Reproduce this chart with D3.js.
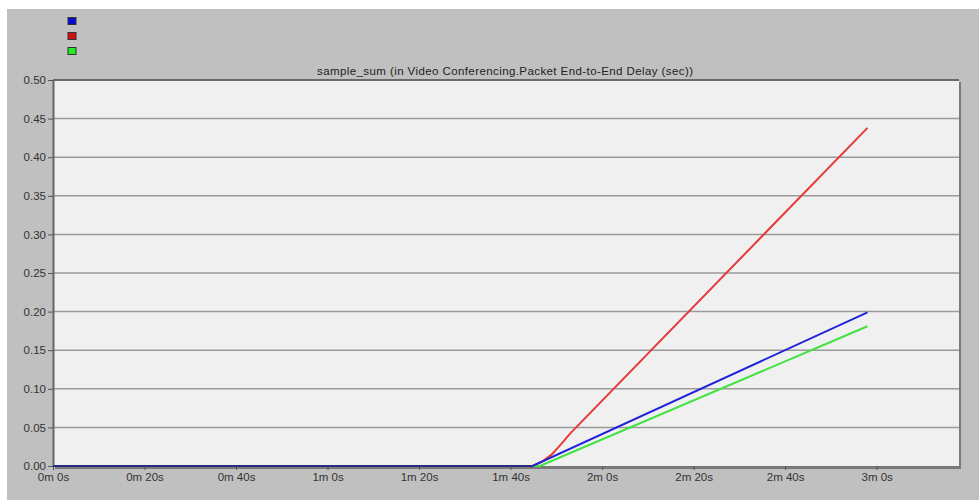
<!DOCTYPE html>
<html>
<head>
<meta charset="utf-8">
<script src="https://cdn.jsdelivr.net/npm/d3@7"></script>
<style>
  body { margin: 0; background: #fff; }
  svg { display: block; font-family: "Liberation Sans", Arial, sans-serif; }
</style>
</head>
<body>
<div class="wrapper"></div>
<script>
const w = 979
const h = 500
const plotLeft = 53
const plotRight = 959
const plotTop = 80
const plotBottom = 466

const title = "sample_sum (in Video Conferencing.Packet End-to-End Delay (sec))"
const seriesNames = ["blue", "red", "green"]
const seriesColors = ["#2222d8", "#e63a3a", "#3fe23f"]
const legendFills = ["#0a0ad0", "#d01010", "#22ee22"]

// time in seconds, value in seconds of delay
const blueTime = [0, 104.8, 178]
const blueValue = [0, 0, 0.199]
const redTime = [0, 104.8, 107, 109, 111, 113, 178]
const redValue = [0, 0, 0.006, 0.015, 0.028, 0.042, 0.438]
const greenTime = [0, 106.4, 178]
const greenValue = [0, 0, 0.181]

const xTicks = [0, 20, 40, 60, 80, 100, 120, 140, 160, 180]
const xTickLabels = ["0m 0s", "0m 20s", "0m 40s", "1m 0s", "1m 20s", "1m 40s", "2m 0s", "2m 20s", "2m 40s", "3m 0s"]
const yTicks = [0, 0.05, 0.1, 0.15, 0.2, 0.25, 0.3, 0.35, 0.4, 0.45, 0.5]

const xScale = d3.scaleLinear().domain([0, 198]).range([plotLeft, plotRight])
const yScale = d3.scaleLinear().domain([0, 0.5]).range([plotBottom, plotTop])

const svg = d3.select(".wrapper")
  .append("svg")
  .attr("width", w)
  .attr("height", h)

// grey window background
svg.append("rect")
  .attr("x", 7).attr("y", 9)
  .attr("width", w - 7).attr("height", h - 9)
  .attr("fill", "#c0c0c0")

// legend squares
svg.selectAll(".legend")
  .data(seriesNames)
  .enter()
  .append("rect")
  .attr("class", "legend")
  .attr("x", 68)
  .attr("y", (d, i) => 17.5 + i * 15)
  .attr("width", 8)
  .attr("height", 7)
  .attr("fill", (d, i) => legendFills[i])
  .attr("stroke", "#333")
  .attr("stroke-width", 1)

svg.append("text")
  .attr("x", 505)
  .attr("y", 75)
  .attr("text-anchor", "middle")
  .attr("font-size", 11.5)
  .attr("textLength", 376)
  .attr("fill", "#222")
  .text(title)

// plot area with shadow on right / bottom
svg.append("rect")
  .attr("x", plotLeft + 2).attr("y", plotTop + 2)
  .attr("width", plotRight - plotLeft).attr("height", plotBottom - plotTop + 1)
  .attr("fill", "#7a7a7a")
svg.append("rect")
  .attr("x", plotLeft).attr("y", plotTop)
  .attr("width", plotRight - plotLeft).attr("height", plotBottom - plotTop)
  .attr("fill", "#f0f0f0")

// horizontal grid
svg.append("g")
  .selectAll("line")
  .data(yTicks.slice(1, -1))
  .enter()
  .append("line")
  .attr("x1", plotLeft)
  .attr("x2", plotRight)
  .attr("y1", (d) => yScale(d))
  .attr("y2", (d) => yScale(d))
  .attr("stroke", "#9a9a9a")
  .attr("stroke-width", 1.5)

// top border
svg.append("line")
  .attr("x1", plotLeft).attr("x2", plotRight)
  .attr("y1", plotTop).attr("y2", plotTop)
  .attr("stroke", "#6a6a6a").attr("stroke-width", 2)

const yAxis = d3.axisLeft(yScale)
  .tickValues(yTicks)
  .tickFormat(d3.format(".2f"))
  .tickSize(5)
  .tickSizeOuter(0)
svg.append("g")
  .attr("transform", "translate(" + plotLeft + ", 0)")
  .call(yAxis)
  .call((g) => g.select(".domain").attr("stroke", "#666").attr("stroke-width", 2))
  .call((g) => g.selectAll(".tick line").attr("stroke", "#555"))
  .call((g) => g.selectAll("text").attr("font-size", 11.5).attr("fill", "#333").attr("x", -7).attr("font-family", "Liberation Sans, Arial, sans-serif"))

const xAxis = d3.axisBottom(xScale)
  .tickValues(xTicks)
  .tickFormat((d, i) => xTickLabels[i])
  .tickSize(4)
  .tickSizeOuter(0)
svg.append("g")
  .attr("transform", "translate(0, " + plotBottom + ")")
  .call(xAxis)
  .call((g) => g.select(".domain").attr("stroke", "#777").attr("stroke-width", 1))
  .call((g) => g.selectAll(".tick line").attr("stroke", "#555"))
  .call((g) => g.selectAll("text").attr("font-size", 11.5).attr("fill", "#333").attr("y", 7).attr("font-family", "Liberation Sans, Arial, sans-serif"))

const line = d3.line()
  .x((d) => xScale(d[0]))
  .y((d) => yScale(d[1]))

const seriesData = [
  d3.zip(redTime, redValue),
  d3.zip(greenTime, greenValue),
  d3.zip(blueTime, blueValue)
]
const drawColors = [seriesColors[1], seriesColors[2], seriesColors[0]]

svg.append("g")
  .selectAll("path")
  .data(seriesData)
  .enter()
  .append("path")
  .attr("d", (d) => line(d))
  .attr("fill", "none")
  .attr("stroke", (d, i) => drawColors[i])
  .attr("stroke-width", 2)

// zero overlap of all series looks navy
svg.append("line")
  .attr("x1", xScale(0)).attr("x2", xScale(blueTime[1]))
  .attr("y1", yScale(0)).attr("y2", yScale(0))
  .attr("stroke", "#2a2a80").attr("stroke-width", 2)
</script>
</body>
</html>
